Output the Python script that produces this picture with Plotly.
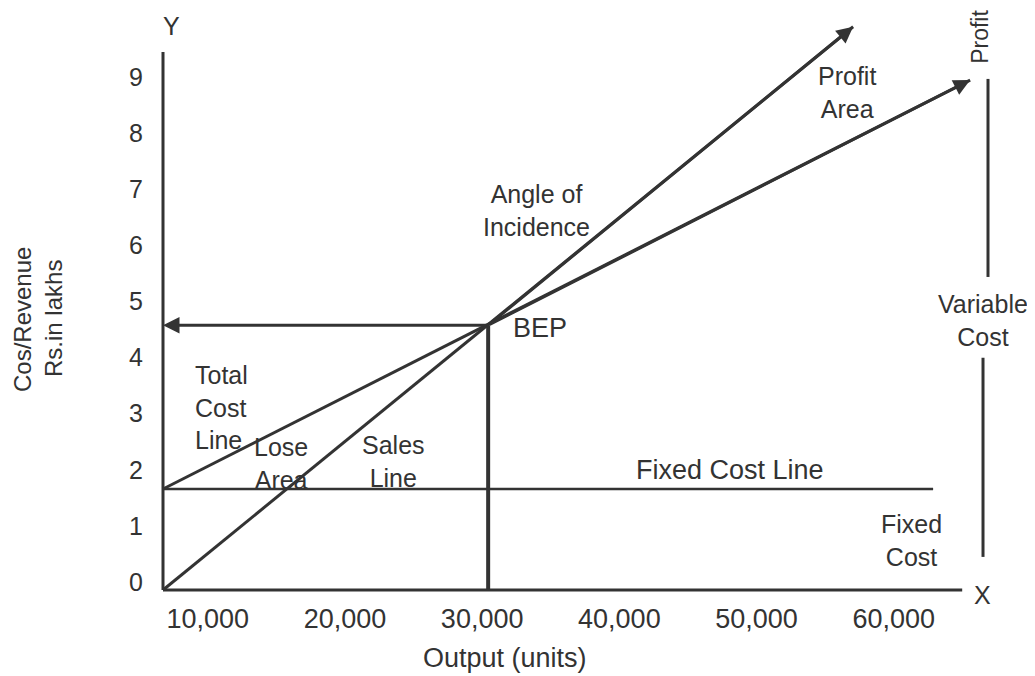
import plotly.graph_objects as go

# break-even chart values (output in units, cost/revenue in Rs. lakhs)
origin_x = 6300
sales_x = [6300, 56600]
sales_y = [0, 10.04]
total_cost_x = [6300, 65130]
total_cost_y = [1.8, 9.09]
fixed_cost_x = [6300, 62430]
fixed_cost_y = [1.8, 1.8]
bep_x = 30000
bep_y = 4.72

x_ticks = [10000, 20000, 30000, 40000, 50000, 60000]
x_tick_text = ["10,000", "20,000", "30,000", "40,000", "50,000", "60,000"]
y_ticks = [0, 1, 2, 3, 4, 5, 6, 7, 8, 9]

INK = "#333333"
FONT = "Liberation Sans, Arial, sans-serif"

fig = go.Figure()

fig.add_trace(go.Scatter(x=sales_x, y=sales_y, mode="lines", line=dict(color=INK, width=3)))
fig.add_trace(go.Scatter(x=total_cost_x, y=total_cost_y, mode="lines", line=dict(color=INK, width=3)))
fig.add_trace(go.Scatter(x=fixed_cost_x, y=fixed_cost_y, mode="lines", line=dict(color=INK, width=2.5)))
fig.add_trace(go.Scatter(x=[bep_x, bep_x], y=[0, bep_y], mode="lines", line=dict(color=INK, width=4)))

# axes drawn by hand so they stop short like the original
fig.add_shape(type="line", x0=origin_x, y0=0, x1=origin_x, y1=9.59, line=dict(color=INK, width=3))
fig.add_shape(type="line", x0=origin_x, y0=0, x1=64550, y1=0, line=dict(color=INK, width=3))
# right-hand brackets
fig.add_shape(type="line", x0=66431, y0=9.11, x1=66431, y1=5.58, line=dict(color=INK, width=3))
fig.add_shape(type="line", x0=66067, y0=4.14, x1=66067, y1=0.59, line=dict(color=INK, width=3))

arrow = dict(showarrow=True, arrowhead=2, arrowsize=1.1, arrowwidth=3, arrowcolor=INK,
             axref="x", ayref="y", text="", standoff=0)
fig.add_annotation(x=sales_x[-1], y=sales_y[-1], ax=bep_x, ay=bep_y, **arrow)
fig.add_annotation(x=total_cost_x[-1], y=total_cost_y[-1], ax=bep_x, ay=bep_y, **arrow)
fig.add_annotation(x=origin_x, y=bep_y, ax=bep_x, ay=bep_y, **arrow)

labels = [
    ("Y", 6883, 10.05, "center", 0, 25),
    ("X", 65994, -0.09, "center", 0, 25),
    ("Profit<br>Area", 56154, 8.87, "center", 0, 25),
    ("Angle of<br>Incidence", 33559, 6.76, "center", 0, 25),
    ("BEP", 33778, 4.67, "center", 0, 27),
    ("Total<br>Cost<br>Line", 8487, 3.26, "left", 0, 25),
    ("Lose<br>Area", 14900, 2.25, "center", 0, 25),
    ("Sales<br>Line", 23064, 2.29, "center", 0, 25),
    ("Fixed Cost Line", 47626, 2.14, "center", 0, 27),
    ("Fixed<br>Cost", 60819, 0.89, "center", 0, 25),
    ("Variable<br>Cost", 66067, 4.80, "center", 0, 25),
    ("Profit", 65848, 9.86, "center", -90, 23),
]
for text, x, y, anchor, angle, size in labels:
    fig.add_annotation(x=x, y=y, text=text, showarrow=False, xanchor=anchor, yanchor="middle",
                       align=anchor, textangle=angle, font=dict(family=FONT, size=size, color=INK))

# axis titles sit outside the plot, so they use paper coordinates
for text, x, y, angle in [("Cos/Revenue", -0.1488, 0.477, -90),
                          ("Rs.in lakhs", -0.1128, 0.4804, -90),
                          ("Output (units)", 0.4128, -0.0988, 0)]:
    fig.add_annotation(x=x, y=y, xref="paper", yref="paper", text=text, showarrow=False,
                       xanchor="center", yanchor="middle", textangle=angle,
                       font=dict(family=FONT, size=24 if angle else 27, color=INK))

fig.update_layout(
    width=1035, height=676,
    margin=dict(l=142, r=33, t=5, b=84),
    plot_bgcolor="white", paper_bgcolor="white",
    showlegend=False,
    font=dict(family=FONT, size=25, color=INK),
)
fig.update_xaxes(range=[5352.5, 68034.5], tickvals=x_ticks, ticktext=x_tick_text,
                 showgrid=False, zeroline=False, showline=False, ticks="",
                 tickfont=dict(size=27), ticklabelshift=-6, ticklabelstandoff=0)
fig.update_yaxes(range=[-0.178, 10.285], tickvals=y_ticks,
                 showgrid=False, zeroline=False, showline=False, ticks="",
                 tickfont=dict(size=25), ticklabelshift=-8, ticklabelstandoff=6)

fig.write_html("out.html")
